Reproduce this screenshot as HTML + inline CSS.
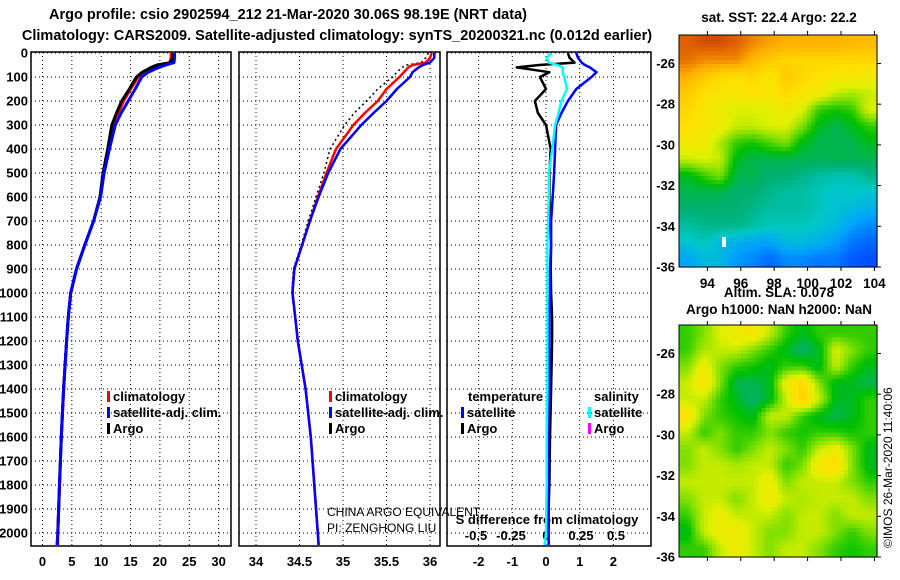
<!DOCTYPE html>
<html><head><meta charset="utf-8"><style>
body{margin:0;background:#fff;}
svg{display:block;font-family:"Liberation Sans",sans-serif;}
.b{font-weight:bold;font-size:14.5px;}
.m{font-weight:bold;font-size:13.5px;}
.t{font-weight:bold;font-size:13px;}
</style></head><body>
<svg id="c" width="900" height="580" xmlns="http://www.w3.org/2000/svg">
<text class="b" x="288" y="19" text-anchor="middle">Argo profile: csio 2902594_212 21-Mar-2020 30.06S 98.19E (NRT data)</text>
<text class="b" x="337" y="40" text-anchor="middle">Climatology: CARS2009. Satellite-adjusted climatology: synTS_20200321.nc (0.012d earlier)</text>
<text class="m" x="779" y="22" text-anchor="middle">sat. SST: 22.4 Argo: 22.2</text>
<text class="m" x="779" y="297" text-anchor="middle">Altim. SLA: 0.078</text>
<text class="m" x="779" y="314" text-anchor="middle">Argo h1000: NaN h2000: NaN</text>
<text x="892" y="548" font-size="12" transform="rotate(-90 892 548)">©IMOS 26-Mar-2020 11:40:06</text>
<text x="327" y="516" font-size="12">CHINA ARGO EQUIVALENT</text>
<text x="327" y="532" font-size="12">PI: ZENGHONG LIU</text>
</svg>
<script>
const depths=[0,20,40,50,60,80,100,150,200,250,300,400,500,600,700,800,900,1000,1100,1200,1400,1600,1800,2000,2050];
const tArgo=[22.2,22.2,21.8,19.5,18.5,17,16,14.8,13.5,12.6,11.8,11.1,10.3,9.8,8.7,7.2,5.8,4.8,4.4,4.1,3.6,3.2,2.9,2.6,null];
const tClim=[21.9,21.9,21.7,20,19,17.5,16.3,15,13.8,12.9,12,11.2,10.4,9.8,8.7,7.2,5.8,4.8,4.4,4.1,3.6,3.2,2.9,2.6,2.45];
const tSat=[22.5,22.5,22.4,21,19.8,18,16.9,15.8,14.6,13.4,12.4,11.4,10.5,9.9,8.7,7.2,5.8,4.8,4.4,4.1,3.6,3.2,2.9,2.6,2.55];
const sClim=[36.02,36.0,35.95,35.8,35.75,35.7,35.65,35.5,35.4,35.25,35.12,34.92,34.81,34.71,34.62,34.53,34.44,34.42,34.45,34.48,34.57,34.63,34.67,34.71,34.72];
const sSat=[36.05,36.05,36.0,35.92,35.87,35.8,35.77,35.62,35.5,35.35,35.21,34.97,34.83,34.72,34.62,34.53,34.44,34.42,34.45,34.48,34.57,34.63,34.67,34.71,34.72];
const sArgo=[35.98,35.95,35.9,35.73,35.68,35.62,35.57,35.4,35.27,35.13,35.02,34.85,34.78,34.69,34.6,34.52,34.43,34.41,34.45,34.48,34.57,34.63,34.67,34.71,null];
const dTArgo=[0.65,0.7,0.85,-0.2,-0.87,0.1,-0.18,0,-0.33,-0.24,0,0.14,0.1,0.1,0.12,0.15,0.14,0.15,0.18,0.18,0.15,0.12,0.1,0.05,null];
const dTSat=[0.9,0.95,1.06,1.15,1.3,1.5,1.35,0.9,0.65,0.46,0.3,0.27,0.24,0.2,0.15,0.15,0.12,0.12,0.1,0.1,0.1,0.08,0.08,0.08,0.08];
const dSSat=[0.04,0.005,0.02,0.08,0.12,0.12,0.13,0.15,0.11,0.09,0.065,0.045,0.02,0.02,0.015,0.01,0.01,0.01,0.01,0.01,0.01,0.005,0.005,0.0,-0.01];
const depthTicks=[0,100,200,300,400,500,600,700,800,900,1000,1100,1200,1300,1400,1500,1600,1700,1800,1900,2000];
const tTicks=[0,5,10,15,20,25,30];
const sTicks=[34,34.5,35,35.5,36];
const sTickLabels=["34","34.5","35","35.5","36"];
const dTTicks=[-2,-1,0,1,2];
const dSTicks=[-0.5,-0.25,0,0.25,0.5];
const dSTickLabels=["-0.5","-0.25","0","0.25","0.5"];
const lonTicks=[94,96,98,100,102,104];
const latTicks=[-26,-28,-30,-32,-34,-36];
const sstGrid=[
[0.9,0.92,0.92,0.9,0.85,0.82,0.8,0.8,0.8,0.8,0.78,0.78],
[0.88,0.85,0.85,0.85,0.78,0.75,0.72,0.72,0.72,0.72,0.72,0.72],
[0.8,0.75,0.72,0.7,0.72,0.68,0.75,0.72,0.7,0.68,0.68,0.66],
[0.75,0.7,0.68,0.68,0.7,0.68,0.72,0.68,0.66,0.6,0.58,0.6],
[0.72,0.68,0.65,0.62,0.62,0.62,0.66,0.62,0.5,0.48,0.5,0.62],
[0.7,0.68,0.65,0.6,0.6,0.62,0.62,0.55,0.45,0.42,0.45,0.5],
[0.66,0.66,0.58,0.5,0.48,0.52,0.55,0.45,0.42,0.42,0.42,0.45],
[0.6,0.62,0.6,0.45,0.42,0.42,0.42,0.42,0.42,0.42,0.42,0.42],
[0.45,0.5,0.55,0.42,0.42,0.4,0.4,0.38,0.36,0.35,0.35,0.38],
[0.42,0.42,0.42,0.4,0.4,0.38,0.36,0.36,0.34,0.32,0.33,0.32],
[0.4,0.4,0.4,0.4,0.38,0.36,0.36,0.36,0.34,0.32,0.3,0.28],
[0.36,0.38,0.38,0.38,0.36,0.34,0.34,0.34,0.32,0.3,0.25,0.22],
[0.32,0.34,0.3,0.28,0.26,0.26,0.3,0.3,0.28,0.25,0.2,0.18],
[0.26,0.3,0.3,0.24,0.22,0.18,0.22,0.22,0.2,0.2,0.16,0.15]];
const slaGrid=[
[0.5,0.55,0.62,0.66,0.68,0.6,0.5,0.45,0.5,0.5,0.5,0.5],
[0.5,0.58,0.6,0.6,0.55,0.5,0.45,0.4,0.45,0.62,0.55,0.5],
[0.55,0.65,0.55,0.5,0.48,0.45,0.5,0.5,0.45,0.6,0.5,0.45],
[0.6,0.7,0.55,0.42,0.42,0.45,0.65,0.72,0.55,0.45,0.45,0.42],
[0.6,0.6,0.5,0.45,0.4,0.45,0.6,0.75,0.6,0.45,0.45,0.5],
[0.7,0.55,0.5,0.48,0.45,0.6,0.6,0.5,0.45,0.42,0.45,0.5],
[0.6,0.5,0.55,0.5,0.5,0.55,0.5,0.48,0.5,0.5,0.48,0.5],
[0.55,0.6,0.55,0.5,0.55,0.6,0.55,0.5,0.6,0.65,0.55,0.45],
[0.55,0.6,0.6,0.58,0.6,0.6,0.5,0.55,0.68,0.72,0.55,0.45],
[0.6,0.6,0.6,0.6,0.6,0.65,0.55,0.6,0.6,0.6,0.55,0.5],
[0.55,0.6,0.6,0.55,0.6,0.66,0.6,0.58,0.6,0.6,0.6,0.55],
[0.5,0.6,0.65,0.6,0.6,0.6,0.55,0.6,0.6,0.55,0.6,0.6],
[0.45,0.6,0.65,0.66,0.6,0.55,0.55,0.6,0.6,0.55,0.5,0.55],
[0.5,0.5,0.6,0.65,0.6,0.55,0.6,0.6,0.55,0.5,0.48,0.5]];

const NS="http://www.w3.org/2000/svg";
const svg=document.getElementById('c');
function mk(tag,attrs){const e=document.createElementNS(NS,tag);for(const k in attrs)e.setAttribute(k,attrs[k]);svg.appendChild(e);return e;}
const yD=d=>53+d*0.24;
const xT=v=>42.5+v*5.87;
const xS=v=>256+(v-34)*87;
const xDT=v=>546+v*33.7;
const xDS=v=>546+v*140;
const PY0=52,PY1=546;
const panels=[[31,231],[239,440],[447,651]];

panels.forEach((p,i)=>{
  depthTicks.forEach(d=>{
    const l=mk('line',{x1:p[0],x2:p[1],y1:yD(d),y2:yD(d),stroke:'#000','stroke-width':1,'stroke-dasharray':'1,3'});
    
    
  });
});
tTicks.forEach(v=>{const l=mk('line',{x1:xT(v),x2:xT(v),y1:PY0,y2:PY1,stroke:'#000','stroke-dasharray':'1,3'});
  
  
  const t=mk('text',{x:xT(v),y:566,'text-anchor':'middle',class:'t'});t.textContent=v;
  
  });
sTicks.forEach((v,i)=>{const l=mk('line',{x1:xS(v),x2:xS(v),y1:PY0,y2:PY1,stroke:'#000','stroke-dasharray':'1,3'});
  
  
  const t=mk('text',{x:xS(v),y:566,'text-anchor':'middle',class:'t'});t.textContent=sTickLabels[i];
  
  });
dTTicks.forEach(v=>{const l=mk('line',{x1:xDT(v),x2:xDT(v),y1:PY0,y2:PY1,stroke:'#000','stroke-dasharray':'1,3'});
  
  
  const t=mk('text',{x:xDT(v),y:566,'text-anchor':'middle',class:'t'});t.textContent=v;
  
  });
dSTicks.forEach((v,i)=>{const t=mk('text',{x:xDS(v),y:540,'text-anchor':'middle',class:'t'});t.textContent=dSTickLabels[i];
  
  });
depthTicks.forEach(d=>{const t=mk('text',{x:28,y:yD(d)+4.5,'text-anchor':'end',class:'t'});t.textContent=d;
  
  });
const st=mk('text',{x:547,y:524,'text-anchor':'middle',class:'t'});st.textContent='S difference from climatology';



function series(xs,xf,color,w,name,dash){
  let pts=[];
  xs.forEach((v,i)=>{if(v!==null)pts.push(xf(v).toFixed(1)+','+yD(depths[i]).toFixed(1));});
  const a={points:pts.join(' '),fill:'none',stroke:color,'stroke-width':w,'stroke-linejoin':'round'};
  if(dash)a['stroke-dasharray']=dash;
  const p=mk('polyline',a);
  
  
}
series(tClim,xT,'#f00',3,'temperature-climatology-line');
series(tArgo,xT,'#000',3,'temperature-argo-line');
series(tSat,xT,'#00f',3,'temperature-satellite-line');
series(sArgo,xS,'#000',1.5,'salinity-argo-line','2,3');
series(sClim,xS,'#f00',2.5,'salinity-climatology-line');
series(sSat,xS,'#00f',2.5,'salinity-satellite-line');
series(dTArgo,xDT,'#000',2.5,'temperature-diff-argo-line');
series(dTSat,xDT,'#00f',2.5,'temperature-diff-satellite-line');
series(dSSat,xDS,'#0ff',2.5,'salinity-diff-satellite-line');

panels.forEach(p=>{const r=mk('rect',{x:p[0],y:PY0,width:p[1]-p[0],height:PY1-PY0,fill:'none',stroke:'#000','stroke-width':1.5});
  
  });

function legend(x,y,color,label,name){
  const r=mk('rect',{x:x,y:y-10,width:3,height:11,fill:color});
  
  
  const t=mk('text',{x:x+6,y:y,class:'t'});t.textContent=label;
  
  
}
legend(107,401,'#f00','climatology','legend-entry-climatology');
legend(107,417,'#00f','satellite-adj. clim.','legend-entry-satellite-adj');
legend(107,433,'#000','Argo','legend-entry-argo');
legend(329,401,'#f00','climatology','legend-entry-climatology-salinity');
legend(329,417,'#00f','satellite-adj. clim.','legend-entry-satellite-adj-salinity');
legend(329,433,'#000','Argo','legend-entry-argo-salinity');
legend(461,417,'#00f','satellite','legend-entry-temp-satellite');
legend(461,433,'#000','Argo','legend-entry-temp-argo');
legend(588,417,'#0ff','satellite','legend-entry-sal-satellite');
legend(588,433,'#f0f','Argo','legend-entry-sal-argo');
const lt1=mk('text',{x:468,y:401,class:'t'});lt1.textContent='temperature';


const lt2=mk('text',{x:594,y:401,class:'t'});lt2.textContent='salinity';



const stops=[[0,[0,0,160]],[0.15,[0,80,255]],[0.25,[0,160,255]],[0.33,[0,200,200]],[0.4,[0,176,112]],[0.47,[0,192,0]],[0.55,[128,224,0]],[0.62,[224,240,0]],[0.7,[255,224,0]],[0.8,[255,176,0]],[0.9,[224,96,0]],[1,[160,0,0]]];
function col(v){for(let i=1;i<stops.length;i++){if(v<=stops[i][0]){const a=stops[i-1],b=stops[i],f=(v-a[0])/(b[0]-a[0]);const c=a[1].map((x,k)=>Math.round(x+(b[1][k]-x)*f));return 'rgb('+c.join(',')+')';}}return 'rgb(160,0,0)';}
function samp(g,r,c){const R=g.length-1,C=g[0].length-1;r=Math.max(0,Math.min(R,r));c=Math.max(0,Math.min(C,c));
  const r0=Math.floor(r),c0=Math.floor(c),r1=Math.min(R,r0+1),c1=Math.min(C,c0+1),fr=r-r0,fc=c-c0;
  return g[r0][c0]*(1-fr)*(1-fc)+g[r0][c1]*(1-fr)*fc+g[r1][c0]*fr*(1-fc)+g[r1][c1]*fr*fc;}
const MX0=679,MX1=877;
function map(grid,y0,y1,name,sub){
  const rows=grid.length*sub,cols=grid[0].length*sub,cw=(MX1-MX0)/cols,ch=(y1-y0)/rows;
  for(let r=0;r<rows;r++)for(let c=0;c<cols;c++){
    const v=samp(grid,(r+0.5)/sub-0.5,(c+0.5)/sub-0.5);
    const e=mk('rect',{x:(MX0+c*cw).toFixed(1),y:(y0+r*ch).toFixed(1),width:(cw+0.6).toFixed(1),height:(ch+0.6).toFixed(1),fill:col(v)});
    
    
  }
  const f=mk('rect',{x:MX0,y:y0,width:MX1-MX0,height:y1-y0,fill:'none',stroke:'#000','stroke-width':1});
  
  
  const yl=lat=>y0+(lat+24.6)/(-11.4)*(y1-y0);
  latTicks.forEach(l=>{
    const t=mk('text',{x:MX0-4,y:yl(l)+4.5,'text-anchor':'end',class:'t'});t.textContent=l;
    
    
    const k=mk('line',{x1:MX1,x2:MX1+4,y1:yl(l),y2:yl(l),stroke:'#000'});
    
    
  });
  lonTicks.forEach(l=>{
    const x=MX0+(l-92.3)*16.7;
    const k=mk('line',{x1:x,x2:x,y1:y0-4,y2:y0,stroke:'#000'});
    
    
    const k2=mk('line',{x1:x,x2:x,y1:y1,y2:y1+4,stroke:'#000'});
    
    
  });
}
map(sstGrid,35,267,'sst-map',4);
map(slaGrid,325,557,'sla-map',4);
lonTicks.forEach(l=>{const t=mk('text',{x:MX0+(l-92.3)*16.7,y:288,'text-anchor':'middle',class:'m'});t.textContent=l;
  
  });
const pos=mk('rect',{x:722,y:237,width:4,height:10,fill:'#fff'});


</script>
</body></html>
